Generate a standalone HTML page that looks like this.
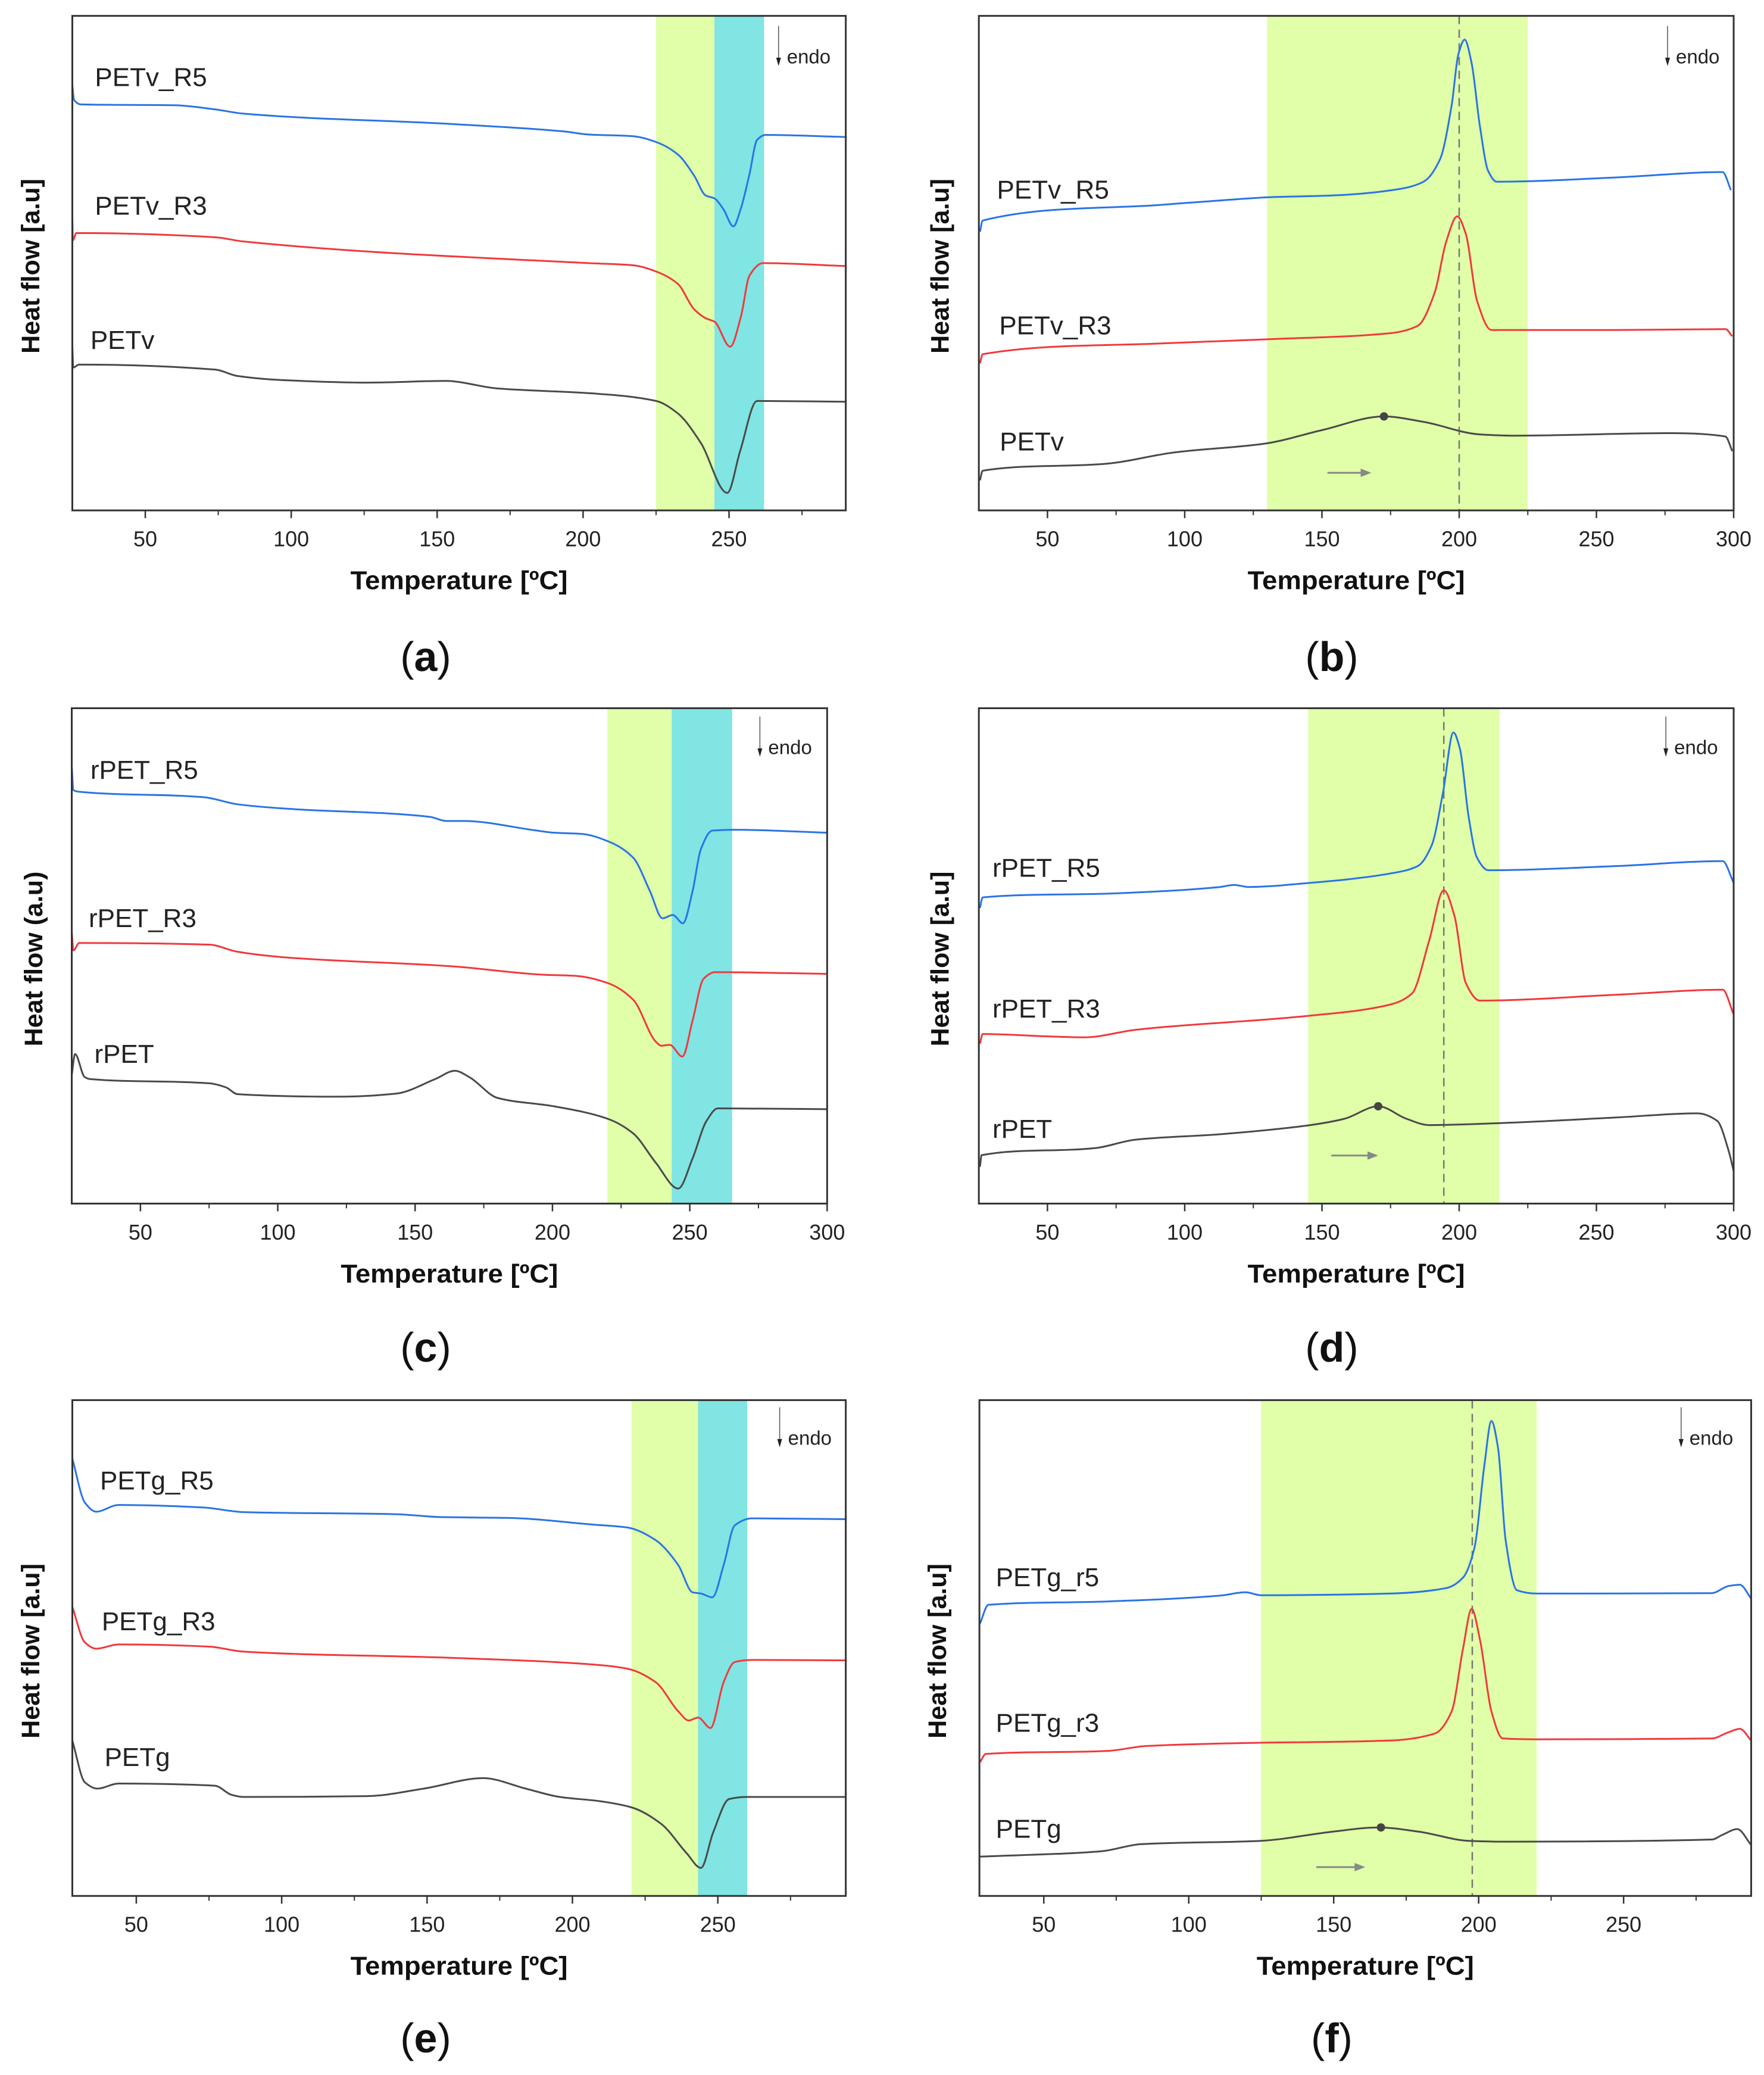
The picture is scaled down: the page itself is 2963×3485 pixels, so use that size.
<!DOCTYPE html>
<html><head><meta charset="utf-8"><style>
html,body{margin:0;padding:0;background:#fff;}
svg{display:block;}
text{font-family:"Liberation Sans",Arial,sans-serif;}
</style></head>
<body>
<svg id="fig" width="2963" height="3485" viewBox="0 0 2963 3485" xmlns="http://www.w3.org/2000/svg"></svg>
<script>
// ---- data (temperature °C, heat flow a.u.) ----
const aR5T=[25,25.6,28,60,74,83.5,155,194,201.6,217,225,232.5,238,242,245,248,251.5,254,257,259.6,262.5,290];
const aR5H=[101.7,98.3,97.2,97,96,95,92.5,90.7,90,89.6,88.2,85.2,80.2,75.4,74.7,72.2,68,72.2,80.5,88.7,89.9,89.4];
const aR3T=[25,25.2,26.4,74,83.5,201.6,217,225,232.5,238,242,245,250.4,254,257,261.6,290];
const aR3H=[70.2,64.7,66.4,65.4,64.4,59.2,58.7,57.2,54.2,48.2,46,45.2,39.2,46.2,56.2,59.2,58.5];
const aVT=[25,25.3,27.3,74,81.5,97,126,153,170.6,203.5,225,232.5,240.3,249.4,253.8,259.6,290];
const aVH=[39.2,34.2,34.9,33.7,32.2,31.2,30.6,31,29.2,28,26.2,23.2,16.2,4.2,14.2,26.2,26];
const bR5T=[25.4,26.4,92.3,108.8,131.4,154,178.7,187,193.1,197.3,199.7,202,204.5,207.5,210.6,213.7,256.9,296,299];
const bR5H=[66.7,69.4,73.2,74,75,75.4,77,78.7,84.2,97.2,109.2,112.7,107.2,92.2,81.2,78.7,79.7,81,76.7];
const bR3T=[25.4,26.4,92.3,131.4,174.6,184.9,191.1,195.2,199.3,202.4,206.5,211.7,256.9,297,299.5];
const bR3H=[35.2,37.4,40,41,42.4,44.2,52.2,64.2,70.4,66.2,50.2,43.2,43.2,43.4,41.7];
const bVT=[25.4,26.4,71.7,96.4,129.3,149.9,172.6,187,207.5,219.9,277.5,297,299.5];
const bVH=[7.2,9.5,11.2,13.9,16,19.2,22.5,21.2,18.2,17.9,18.5,17.7,14.2];
const cR5T=[25,25.6,27.7,73,85.3,101.8,155.3,161.4,167.6,194.4,200.5,210.8,220.7,229.4,235.5,240.1,243.8,247.5,251,254,258.2,266.4,300];
const cR5H=[104.8,99,98.6,97.3,95.6,94.6,92.6,91.6,91.6,89.3,88.8,88.5,86.6,82.8,74.8,68.3,69.1,67.1,74.8,84.8,89.3,89.5,88.8];
const cR3T=[25,25.6,27.7,75,85.3,101.8,163.5,196.4,208.8,220.1,229.4,237.6,239.6,242.7,247.3,251,255,259.2,300];
const cR3H=[65.3,60.6,62.4,62,60.3,59,56.8,54.8,54.5,52.8,48.8,38.8,37.8,38,35.2,43.8,53.8,55.4,55];
const cVT=[25,26.2,29.7,31.8,75,81.2,85.3,122.3,142.9,157.3,164.5,169.7,180,200.5,220.1,229.4,237.6,245.8,251,256.1,260.2,300];
const cVH=[30.8,35.8,30.3,29.8,28.8,27.8,26.2,25.6,26.3,29.8,31.8,30.3,25.3,23.3,20.3,16.8,9.8,3.6,10.8,19.8,22.8,22.6];
const dR5T=[25.4,26.4,75.8,112.9,118,123.2,145.8,174.6,184.9,190,194.2,197.9,200.3,203.4,206.5,210.6,256.9,296,300];
const dR5H=[70.8,73.3,74.3,75.8,76.3,75.8,76.8,79,80.8,85.8,98.8,112.8,108.8,92.8,82.8,79.8,80.8,82,76.8];
const dR3T=[25.4,26.4,51.1,63.5,82,145.8,174.6,182.8,189,194.4,198.3,202.4,207.5,256.9,296,300];
const dR3H=[38.3,40.6,40,39.8,41.6,45,47.6,50.3,62.8,75,68.8,52.8,48.6,50,51.2,45.3];
const dVT=[25.4,26,67.6,82,112.9,145.8,158.2,170.5,180.8,189,215.8,256.9,286.8,294,298.1,300];
const dVH=[8.8,11.6,13.3,15.3,16.6,18.8,20.3,23.3,20.3,18.8,19.3,20.6,21.6,19.8,12.8,7.8];
const eR5T=[28,32.3,36.2,43.9,73.1,86.7,139.2,154.7,178.1,207.2,218.9,228.6,236.4,241.3,244.2,248.1,252,255.8,261.7,294];
const eR5H=[104.7,94.2,92,93.6,93,91.9,91.4,90.7,90.5,88.9,88.2,85.2,79.2,72.7,72.4,71.5,79.2,88.7,90.4,90.2];
const eR3T=[28,32.3,36.2,43.9,75,86.7,158.6,207.2,218.9,228.6,236.4,240,243.2,247.5,252,255.8,261.7,294];
const eR3H=[69.2,60.7,59.2,60.2,59.7,58.5,57,55.4,54.4,51.2,44.2,42,42.7,40.2,51.2,56,56.5,56.4];
const eVT=[28,32.3,36.6,43.9,77,82.8,86.7,129.5,148.9,169.3,183.9,195.6,209.2,220.3,230.6,239.3,244.2,248.4,253.9,259.7,294];
const eVH=[37.2,27.2,25.7,26.9,26.4,24.2,23.7,23.9,25.7,28.2,25.7,23.7,22.7,21.2,17.2,10.2,6.7,15.2,23.2,23.7,23.7];
const fR5T=[28,30.9,71.8,110.8,119.6,124.9,169.3,188.8,194.6,198.5,202,204.4,206.7,209.3,213.2,220,280.4,286.2,290.1,294];
const fR5H=[65.2,69.7,70.5,71.9,72.7,72,72.4,73.7,76.2,83.2,103.2,113.7,107.2,85.2,73.2,72.4,72.5,74.2,74.5,71.2];
const fR3T=[28,30,71.8,85.5,118.6,169.3,184.9,190.7,194.6,197.6,200.5,204.4,208.3,220,280.4,286.2,290.1,294];
const fR3H=[32,34,34.7,35.9,36.6,37.2,38.9,44.2,59.2,68.7,61.2,44.2,37.7,37.5,37.7,39.2,40,37.2];
const fVT=[28,69.9,83.5,124.9,149.8,165.4,179.2,196.6,208.3,280.4,284.3,289.2,294];
const fVH=[9.4,10.7,12.4,13.2,15.4,16.4,15.4,13.2,13,13.5,14.7,16,12.2];
const tickValues=[50,100,150,200,250,300];
const minorValues=[25,75,125,175,225,275];
const peakT=[172.6,170.5,166.3];
const peakH=[22.5,23.3,16.4];

const SX=0.949, SY=0.7015, NS='http://www.w3.org/2000/svg';
const svg=document.getElementById('fig');
function mk(tag,attrs,parent){const e=document.createElementNS(NS,tag);for(const k in attrs)e.setAttribute(k,attrs[k]);(parent||svg).appendChild(e);return e;}
function smooth(P){ // monotone cubic (Fritsch-Carlson) in x
  const n=P.length,dx=[],m=[],t=[];
  for(let i=0;i<n-1;i++){dx[i]=P[i+1][0]-P[i][0];m[i]=(P[i+1][1]-P[i][1])/(dx[i]||1e-6);}
  t[0]=m[0];t[n-1]=m[n-2];
  for(let i=1;i<n-1;i++){t[i]=(m[i-1]*m[i]<=0)?0:(dx[i-1]+dx[i])/((dx[i-1])/m[i-1]+(dx[i])/m[i])*1;}
  // use weighted harmonic mean
  for(let i=1;i<n-1;i++){if(m[i-1]*m[i]>0){const w1=2*dx[i]+dx[i-1],w2=dx[i]+2*dx[i-1];t[i]=(w1+w2)/(w1/m[i-1]+w2/m[i]);}}
  let d='M'+P[0][0].toFixed(1)+','+P[0][1].toFixed(1);
  for(let i=0;i<n-1;i++){const h=dx[i]/3;
    d+=' C'+(P[i][0]+h).toFixed(1)+','+(P[i][1]+t[i]*h).toFixed(1)+' '+(P[i+1][0]-h).toFixed(1)+','+(P[i+1][1]-t[i+1]*h).toFixed(1)+' '+P[i+1][0].toFixed(1)+','+P[i+1][1].toFixed(1);}
  return d;
}
const BLUE='#2a74e4',RED='#f0393c',GRAY='#4a4a4a';
const panels=[
 {id:'a',ox:0,oy:0,fl:128,fr:1497,ft:38,fb:1222,t0:25,t1:290,bands:[[225,245,'#e0ffa8'],[245,262,'#80e5e3']],dash:null,
  series:[[aR5T,aR5H,BLUE,'PETv_R5',168,185],[aR3T,aR3H,RED,'PETv_R3',168,493],[aVT,aVH,GRAY,'PETv',160,815]],yl:'Heat flow [a.u]',ylx:55,endo:1378,cap:'a'},
 {id:'b',ox:1480,oy:0,fl:173,fr:1509,ft:38,fb:1222,t0:25,t1:300,bands:[[130,225,'#e0ffa8']],dash:200,peak:0,arrow:[152,168,9],
  series:[[bR5T,bR5H,BLUE,'PETv_R5',205,455],[bR3T,bR3H,RED,'PETv_R3',209,780],[bVT,bVH,GRAY,'PETv',210,1058]],yl:'Heat flow [a.u]',ylx:105,endo:1392,cap:'b'},
 {id:'c',ox:0,oy:1160,fl:127,fr:1464,ft:42,fb:1228,t0:25,t1:300,bands:[[220,243.4,'#e0ffa8'],[243.4,265.4,'#80e5e3']],dash:null,
  series:[[cR5T,cR5H,BLUE,'rPET_R5',160,190],[cR3T,cR3H,RED,'rPET_R3',157,545],[cVT,cVH,GRAY,'rPET',167,870]],yl:'Heat flow (a.u)',ylx:60,endo:1345,cap:'c'},
 {id:'d',ox:1480,oy:1160,fl:173,fr:1509,ft:42,fb:1228,t0:25,t1:300,bands:[[145,214.7,'#e0ffa8']],dash:194.4,peak:1,arrow:[153.4,170.5,11.5],
  series:[[dR5T,dR5H,BLUE,'rPET_R5',197,425],[dR3T,dR3H,RED,'rPET_R3',197,762],[dVT,dVH,GRAY,'rPET',197,1050]],yl:'Heat flow [a.u]',ylx:105,endo:1389,cap:'d'},
 {id:'e',ox:0,oy:2320,fl:128,fr:1497,ft:45,fb:1232,t0:28,t1:294,bands:[[220.3,243.2,'#e0ffa8'],[243.2,260.1,'#80e5e3']],dash:null,
  series:[[eR5T,eR5H,BLUE,'PETg_R5',177,238],[eR3T,eR3H,RED,'PETg_R3',180,575],[eVT,eVH,GRAY,'PETg',185,900]],yl:'Heat flow [a.u]',ylx:55,endo:1380,cap:'e'},
 {id:'f',ox:1480,oy:2320,fl:174,fr:1540,ft:45,fb:1232,t0:27.8,t1:294,bands:[[124.9,220,'#e0ffa8']],dash:197.8,peak:2,arrow:[144,160.9,6.9],
  series:[[fR5T,fR5H,BLUE,'PETg_r5',203,470],[fR3T,fR3H,RED,'PETg_r3',203,818],[fVT,fVH,GRAY,'PETg',203,1072]],yl:'Heat flow [a.u]',ylx:100,endo:1416,cap:'f'}
];
panels.forEach(p=>{
  const g=mk('g',{});
  
  
  const L=p.ox+p.fl*SX,R=p.ox+p.fr*SX,T=p.oy+p.ft*SY,B=p.oy+p.fb*SY;
  const hmax=(p.fb-p.ft)/10;
  const X=t=>L+(t-p.t0)/(p.t1-p.t0)*(R-L);
  const Y=h=>B-h/hmax*(B-T);
  p.bands.forEach((b,i)=>{const r=mk('rect',{x:X(b[0]),y:T,width:X(b[1])-X(b[0]),height:B-T,fill:b[2]},g);
    
    });
  if(p.dash!==null){const d=mk('line',{x1:X(p.dash),x2:X(p.dash),y1:T,y2:B,stroke:'#777','stroke-width':2.5,'stroke-dasharray':'14 9'},g);
    
    }
  p.series.forEach(s=>{
    const P=s[0].map((t,i)=>[X(t),Y(s[1][i])]);
    const pl=mk('path',{d:smooth(P),fill:'none',stroke:s[2],'stroke-width':3,'stroke-linejoin':'round'},g);
    
    
    const tx=mk('text',{x:p.ox+s[4]*SX,y:p.oy+s[5]*SY,'font-size':44,fill:'#222','dominant-baseline':'central'},g);
    tx.textContent=s[3];
    
    
  });
  if(p.peak!==undefined){const c=mk('circle',{cx:X(peakT[p.peak]),cy:Y(peakH[p.peak]),r:7,fill:'#444'},g);
    
    
    const a=p.arrow,ay=Y(a[2]);
    const ar=mk('g',{},g);
    
    
    mk('line',{x1:X(a[0]),x2:X(a[1])-12,y1:ay,y2:ay,stroke:'#888','stroke-width':3},ar);
    mk('polygon',{points:`${X(a[1])},${ay} ${X(a[1])-18},${ay-7} ${X(a[1])-18},${ay+7}`,fill:'#888'},ar);}
  const ex=p.ox+p.endo*SX,ey1=p.oy+62*SY,ey2=p.oy+158*SY;
  const eg=mk('g',{},g);
  
  
  mk('line',{x1:ex,x2:ex,y1:ey1,y2:ey2-10,stroke:'#555','stroke-width':1.5},eg);
  mk('polygon',{points:`${ex},${ey2} ${ex-4},${ey2-14} ${ex+4},${ey2-14}`,fill:'#222'},eg);
  const et=mk('text',{x:ex+14,y:ey2-16,'font-size':33,fill:'#222','dominant-baseline':'central'},eg);
  et.textContent='endo';
  const fr=mk('rect',{x:L,y:T,width:R-L,height:B-T,fill:'none',stroke:'#333','stroke-width':3},g);
  
  
  tickValues.forEach(v=>{if(v<p.t0||v>p.t1)return;
    mk('line',{x1:X(v),x2:X(v),y1:B,y2:B+13,stroke:'#333','stroke-width':2.5},g);
    const t=mk('text',{x:X(v),y:B+48,'font-size':36,fill:'#222','text-anchor':'middle','dominant-baseline':'central'},g);
    t.textContent=v;
    
    });
  minorValues.forEach(v=>{if(v<=p.t0||v>=p.t1)return;
    mk('line',{x1:X(v),x2:X(v),y1:B,y2:B+8,stroke:'#333','stroke-width':2},g);});
  const xt=mk('text',{x:(L+R)/2,y:B+118,'font-size':44,'font-weight':'bold',fill:'#111','text-anchor':'middle','dominant-baseline':'central',textLength:365,lengthAdjust:'spacingAndGlyphs'},g);
  xt.textContent='Temperature [ºC]';
  
  
  const yx=p.ox+p.ylx*SX,yy=(T+B)/2+5;
  const yt=mk('text',{x:yx,y:yy,'font-size':43,'font-weight':'bold',fill:'#111','text-anchor':'middle','dominant-baseline':'central',transform:`rotate(-90 ${yx} ${yy})`},g);
  yt.textContent=p.yl;
  
  
  const cp=mk('text',{x:(p.ox===0?715:2237),y:p.oy+1103,'font-size':70,fill:'#111','text-anchor':'middle','dominant-baseline':'central','font-family':'Liberation Serif, serif'},g);
  cp.innerHTML='(<tspan font-weight="bold">'+p.cap+'</tspan>)';
  
  
});
</script>
</body></html>
